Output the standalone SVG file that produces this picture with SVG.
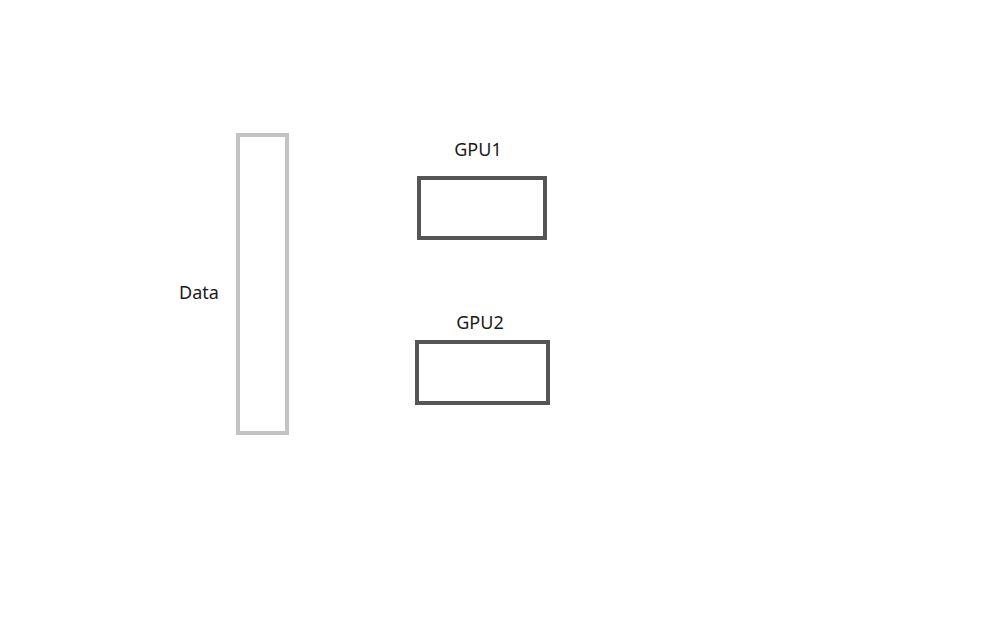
<svg xmlns="http://www.w3.org/2000/svg" width="993" height="629" viewBox="0 0 993 629">
<style>
.lbl{font-family:"Noto Sans","Open Sans","DejaVu Sans",sans-serif;font-size:18px;fill:#1a1a1a;text-anchor:middle}
.data{fill:#ffffff;stroke:#c3c3c3;stroke-width:4}
.gpu{fill:#ffffff;stroke:#555555;stroke-width:4}
</style>
<rect width="993" height="629" fill="#ffffff"/>
<g id="data">
<rect class="data" x="238" y="135" width="49" height="298"/>
<text class="lbl" x="199" y="299">Data</text>
</g>
<g id="gpu1">
<rect class="gpu" x="419" y="178" width="126" height="60"/>
<text class="lbl" x="478" y="156">GPU1</text>
</g>
<g id="gpu2">
<rect class="gpu" x="417" y="342" width="131" height="61"/>
<text class="lbl" x="480" y="329">GPU2</text>
</g>
<g id="connectors"></g>
</svg>
